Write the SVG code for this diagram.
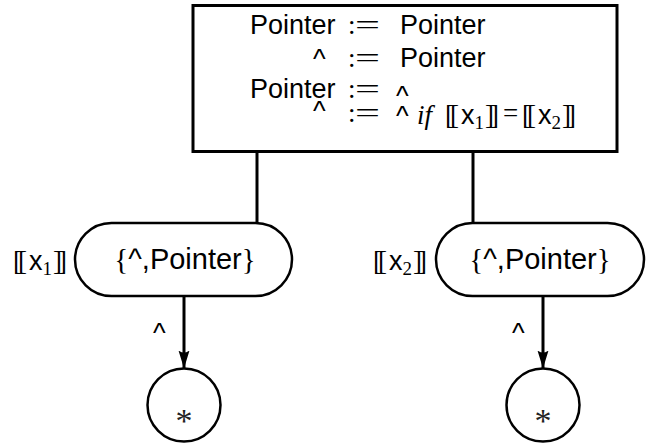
<svg xmlns="http://www.w3.org/2000/svg" width="646" height="447" viewBox="0 0 646 447">
  <defs>
    <style>
      .sans { font-family: "Liberation Sans", Arial, sans-serif; font-size: 27px; fill: #000; }
      .serif { font-family: "Liberation Serif", "Times New Roman", serif; font-size: 27px; fill: #000; }
      .it { font-family: "Liberation Serif", "Times New Roman", serif; font-style: italic; font-size: 27px; fill: #000; }
      .sub { font-family: "Liberation Serif", "Times New Roman", serif; font-size: 19px; }
      .big { font-size: 29px; }
      .box { fill: #fff; stroke: #000; stroke-width: 3; }
      .node { fill: #fff; stroke: #000; stroke-width: 2.5; }
      .edge { fill: none; stroke: #000; stroke-width: 3; }
      .star { font-family: "Liberation Serif", "Times New Roman", serif; font-size: 34px; fill: #222; }
    </style>
    <marker id="arrow" markerUnits="userSpaceOnUse" markerWidth="20" markerHeight="14" viewBox="0 -7 20 14" refX="18" refY="0" orient="auto">
      <path d="M0,-5.5 L18,0 L0,5.5 Q4,0 0,-5.5 Z" fill="#000"/>
    </marker>
  </defs>

  <!-- connectors -->
  <g id="connectors">
    <line class="edge" x1="257" y1="152" x2="257" y2="224"/>
    <line class="edge" x1="473" y1="152" x2="473" y2="224"/>
    <line class="edge" x1="184" y1="296" x2="184" y2="368.5" marker-end="url(#arrow)"/>
    <line class="edge" x1="543" y1="296" x2="543" y2="368.5" marker-end="url(#arrow)"/>
    <text class="sans" x="153" y="342">^</text>
    <text class="sans" x="512" y="342">^</text>
  </g>

  <!-- top box -->
  <g id="rules">
    <rect class="box" x="193" y="5.5" width="424" height="146"/>
    <!-- line 1 -->
    <text class="sans" x="250" y="34">Pointer</text>
    <text class="serif" x="348" y="34">:</text>
    <text class="serif" x="355" y="34" textLength="25" lengthAdjust="spacingAndGlyphs">=</text>
    <text class="sans" x="400" y="34">Pointer</text>
    <!-- line 2 -->
    <text class="sans" x="313" y="68">^</text>
    <text class="serif" x="348" y="67">:</text>
    <text class="serif" x="355" y="67" textLength="25" lengthAdjust="spacingAndGlyphs">=</text>
    <text class="sans" x="400" y="67">Pointer</text>
    <!-- line 3 -->
    <text class="sans" x="250" y="98">Pointer</text>
    <text class="serif" x="348" y="98">:</text>
    <text class="serif" x="355" y="98" textLength="25" lengthAdjust="spacingAndGlyphs">=</text>
    <text class="sans" x="396" y="105">^</text>
    <!-- line 4 -->
    <text class="sans" x="313" y="120">^</text>
    <text class="serif" x="348" y="122">:</text>
    <text class="serif" x="355" y="122" textLength="25" lengthAdjust="spacingAndGlyphs">=</text>
    <text class="sans" x="396" y="125">^</text>
    <text class="it" x="417" y="124">if</text>
    <text class="serif" x="445" y="124">[<tspan dx="-4">[</tspan><tspan class="sans" dx="2">x</tspan><tspan class="sub" dy="5">1</tspan><tspan dy="-5" dx="1">]</tspan><tspan dx="-4">]</tspan></text>
    <text class="serif" x="503" y="122">=</text>
    <text class="serif" x="522" y="124">[<tspan dx="-4">[</tspan><tspan class="sans" dx="2">x</tspan><tspan class="sub" dy="5">2</tspan><tspan dy="-5" dx="1">]</tspan><tspan dx="-4">]</tspan></text>
  </g>

  <!-- left set node -->
  <g id="node-x1">
    <rect class="node" x="75" y="223" width="217" height="73" rx="36.5" ry="36.5"/>
    <text class="sans big" x="185" y="269" text-anchor="middle"><tspan class="serif big">{</tspan>^,Pointer<tspan class="serif big">}</tspan></text>
    <text class="serif" x="13" y="270">[<tspan dx="-4">[</tspan><tspan class="sans" dx="2">x</tspan><tspan class="sub" dy="5">1</tspan><tspan dy="-5" dx="1">]</tspan><tspan dx="-4">]</tspan></text>
  </g>

  <!-- right set node -->
  <g id="node-x2">
    <rect class="node" x="436" y="223" width="208" height="73" rx="36.5" ry="36.5"/>
    <text class="sans big" x="540" y="269" text-anchor="middle"><tspan class="serif big">{</tspan>^,Pointer<tspan class="serif big">}</tspan></text>
    <text class="serif" x="373" y="270">[<tspan dx="-4">[</tspan><tspan class="sans" dx="2">x</tspan><tspan class="sub" dy="5">2</tspan><tspan dy="-5" dx="1">]</tspan><tspan dx="-4">]</tspan></text>
  </g>

  <!-- summary nodes -->
  <g id="node-star1">
    <circle class="node" cx="184" cy="405" r="36.5"/>
    <text class="star" x="184" y="432" text-anchor="middle">*</text>
  </g>
  <g id="node-star2">
    <circle class="node" cx="543" cy="405" r="36.5"/>
    <text class="star" x="543" y="432" text-anchor="middle">*</text>
  </g>
</svg>
